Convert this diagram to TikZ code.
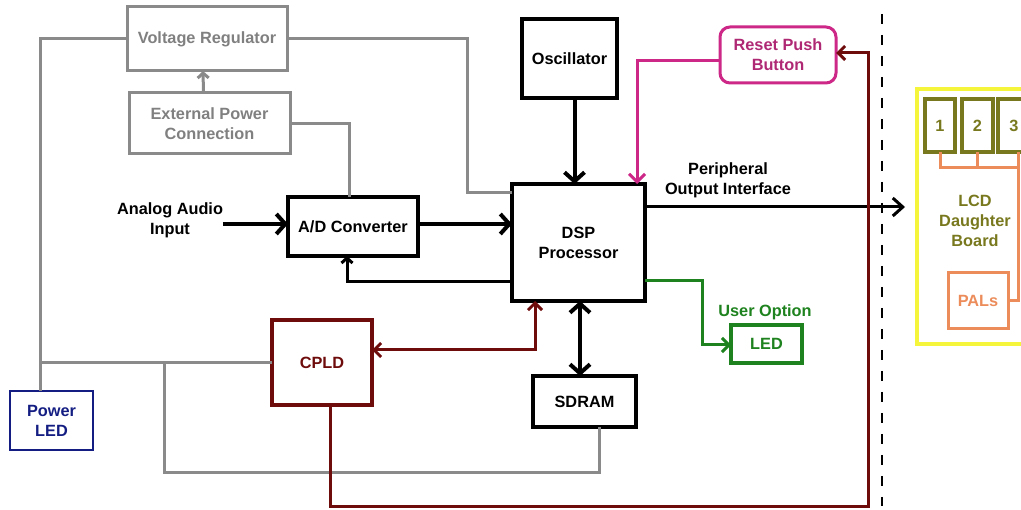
\documentclass[tikz,border=0pt]{standalone}
\usepackage{fontspec}
\setmainfont{Liberation Sans}
\usetikzlibrary{arrows.meta,calc}
\definecolor{cgray}{RGB}{138,138,138}
\definecolor{tgray}{RGB}{128,128,128}
\definecolor{cmaroon}{RGB}{110,12,12}
\definecolor{cmag}{RGB}{205,40,135}
\definecolor{tmag}{RGB}{175,40,115}
\definecolor{cgreen}{RGB}{30,130,30}
\definecolor{cnavy}{RGB}{20,30,130}
\definecolor{cyel}{RGB}{245,245,60}
\definecolor{colive}{RGB}{120,120,30}
\definecolor{corange}{RGB}{235,140,90}
\tikzset{
  every node/.style={font=\fontsize{16.3}{20}\selectfont\bfseries, align=center, inner sep=0pt, outer sep=0pt},
  blk/.style={draw=black, line width=4.5pt, rectangle},
  gbox/.style={draw=cgray, line width=3pt, text=tgray},
  gl/.style={draw=cgray, line width=3pt},
  bl/.style={draw=black, line width=4pt},
  ml/.style={draw=cmaroon, line width=3pt},
  bigtip/.style={-{Straight Barb[length=9pt,width=20pt]}},
  smalltip/.style={-{Straight Barb[length=5pt,width=11pt]}},
}
\begin{document}
\begin{tikzpicture}[x=1pt,y=-1pt]
\useasboundingbox (0,0) rectangle (1021,510);
% boxes
\node[gbox, minimum width=160pt, minimum height=64pt] (vr) at (207,39) {Voltage Regulator};
\node[gbox, minimum width=161pt, minimum height=61pt] (epc) at (209.5,123.5) {External Power\\Connection};
\node[blk, minimum width=130pt, minimum height=59pt] (adc) at (353,226.5) {A/D Converter};
\node[blk, minimum width=133pt, minimum height=117pt] (dsp) at (578.5,242.5) {DSP\\Processor};
\node[blk, minimum width=95pt, minimum height=79pt] (osc) at (569.5,58.5) {Oscillator};
\node[draw=cmag, line width=3pt, rounded corners=10pt, text=tmag, minimum width=116pt, minimum height=56pt] (rst) at (778,55) {Reset Push\\Button};
\node[draw=cmaroon, line width=4pt, text=cmaroon, minimum width=100pt, minimum height=85pt] (cpld) at (322,362.5) {CPLD};
\node[blk, minimum width=103pt, minimum height=51pt] (sdram) at (584.5,401.5) {SDRAM};
\node[draw=cgreen, line width=4pt, text=cgreen, minimum width=71pt, minimum height=38pt] (led) at (766.5,344) {LED};
\node[draw=cnavy, line width=2.5pt, text=cnavy, minimum width=83pt, minimum height=59pt] (pled) at (51.5,420.5) {Power\\LED};
\node[draw=cyel, line width=3.5pt, minimum width=120pt, minimum height=255pt] (board) at (977,216.5) {};
\node[draw=colive, line width=3.5pt, text=colive, minimum width=30pt, minimum height=53pt] (b1) at (940,125.5) {1};
\node[draw=colive, line width=3.5pt, text=colive, minimum width=31pt, minimum height=53pt] (b2) at (977.5,125.5) {2};
\node[draw=colive, line width=3.5pt, text=colive, minimum width=32pt, minimum height=53pt] (b3) at (1014,125.5) {3};
\node[draw=corange, line width=3pt, text=corange, minimum width=60pt, minimum height=56pt] (pals) at (978,301) {PALs};
% text labels
\node (ain) at (170,220) {Analog Audio\\Input};
\node (poi) at (728,180) {Peripheral\\Output Interface};
\node[text=cgreen] (uo) at (765,312) {User Option};
\node[text=colive] (lcd) at (975,221) {LCD\\Daughter\\Board};
% named coordinates
\coordinate (gx) at (40,0);
\coordinate (mr) at (868,507);
\coordinate (po) at (905,207);
\coordinate (oc) at (1018,168);
\coordinate (dt) at (882,14);
\coordinate (db) at (882,506);
% gray connectors
\draw[gl] (vr.west) -| ($(pled.north west)+(30,0)$);
\draw[gl] (cpld.west -| gx) -- (cpld.west);
\draw[gl] ($(cpld.west -| gx)+(124,0)$) |- (599,473) -- ($(sdram.south)+(14.5,0)$);
\draw[gl] (vr.east) -| (467,193) -- ($(dsp.north west)+(0,9)$);
\draw[gl] (epc.east) -| ($(adc.north)+(-4,0)$);
\draw[gl, smalltip] ($(epc.north)+(-6,0)$) -- ($(vr.south)+(-4,0)$);
% black connectors
\draw[bl, bigtip] (ain.east |- 0,224) -- (adc.west |- 0,224);
\draw[bl, bigtip] (adc.east |- 0,224) -- (dsp.west |- 0,224);
\draw[line width=3pt, smalltip] ($(dsp.south west)+(0,-19)$) -| ($(adc.south)+(-6,0)$);
\draw[bl, bigtip] ($(osc.south)+(5,0)$) -- ($(dsp.north)+(-4,0)$);
\draw[bl, {Straight Barb[length=9pt,width=20pt]}-{Straight Barb[length=9pt,width=20pt]}] ($(dsp.south)+(1.5,0)$) -- ($(sdram.north)+(-4.5,0)$);
\draw[line width=3pt, -{Straight Barb[length=10pt,width=18pt]}] ($(dsp.north east)+(0,23)$) -- (po);
\draw[black, line width=1.8pt, dash pattern=on 10pt off 11pt] (dt) -- (db);
% magenta
\draw[draw=cmag, line width=3pt, -{Straight Barb[length=8pt,width=16pt]}] ($(rst.west)+(0,6)$) -| ($(dsp.north east)+(-8,0)$);
% maroon
\draw[ml, -{Straight Barb[length=7pt,width=14pt]}] ($(cpld.south)+(8,0)$) |- (mr) |- ($(rst.east)+(0,-2)$);
\draw[ml, {Straight Barb[length=7pt,width=14pt]}-{Straight Barb[length=7pt,width=14pt]}] ($(cpld.east)+(0,-12.5)$) -| ($(dsp.south west)+(23,0)$);
% green
\draw[draw=cgreen, line width=3pt, -{Straight Barb[length=7pt,width=14pt]}] ($(dsp.south east)+(0,-20)$) -| ($(led.west)+(-29,1)$) -- ($(led.west)+(0,1)$);
% orange
\draw[draw=corange, line width=3pt] (b1.south) |- (oc);
\draw[draw=corange, line width=3pt] (b2.south) -- (b2.south |- oc);
\draw[draw=corange, line width=3pt] ($(b3.south)+(4,0)$) -- (oc) |- (pals.east);
\end{tikzpicture}
\end{document}
